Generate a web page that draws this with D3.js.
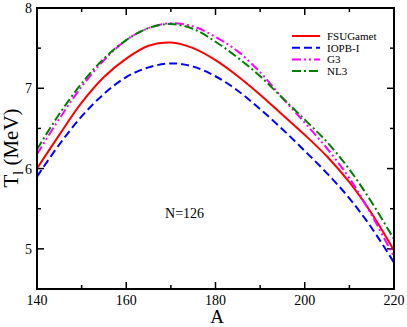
<!DOCTYPE html>
<html>
<head>
<meta charset="utf-8">
<script src="https://cdn.jsdelivr.net/npm/d3@7"></script>
<style>
  body { margin: 0; background: #fff; }
  text { font-family: "Liberation Serif", "Times New Roman", serif; }
</style>
</head>
<body>
<svg id="chart" width="407" height="327"></svg>
<script>
// mass numbers
const massA = [140, 145, 150, 155, 160, 165, 170, 175, 180, 185, 190, 195, 200, 205, 210, 215, 220];
// T_l (MeV) per force
const fsuGamet = [6.00, 6.42, 6.82, 7.14, 7.37, 7.53, 7.57, 7.50, 7.35, 7.15, 6.92, 6.67, 6.42, 6.15, 5.83, 5.44, 4.98];
const iopb1 = [5.90, 6.30, 6.65, 6.93, 7.14, 7.26, 7.31, 7.27, 7.15, 6.97, 6.74, 6.49, 6.22, 5.94, 5.63, 5.26, 4.83];
const g3 = [6.18, 6.62, 7.02, 7.35, 7.60, 7.75, 7.81, 7.77, 7.64, 7.46, 7.20, 6.88, 6.57, 6.25, 5.88, 5.42, 4.90];
const nl3 = [6.24, 6.68, 7.06, 7.37, 7.60, 7.75, 7.80, 7.74, 7.58, 7.38, 7.15, 6.88, 6.61, 6.33, 5.99, 5.58, 5.12];

const xTicks = [140, 160, 180, 200, 220];
const yTicks = [5, 6, 7, 8];

const seriesList = [
  { name: "FSUGamet", values: fsuGamet, color: "#ff0000", dash: null },
  { name: "IOPB-I", values: iopb1, color: "#0000ff", dash: "8,4" },
  { name: "G3", values: g3, color: "#ff00ff", dash: "9,3,2,3,2,3" },
  { name: "NL3", values: nl3, color: "#008000", dash: "9,3,2,3" }
];

const margin = { top: 8, right: 13, bottom: 38, left: 37 };
const width = 407 - margin.left - margin.right;
const height = 327 - margin.top - margin.bottom;

const svg = d3.select("#chart");
const g = svg.append("g").attr("transform", `translate(${margin.left},${margin.top})`);

const x = d3.scaleLinear().domain([140, 220]).range([0, width]);
const y = d3.scaleLinear().domain([4.5, 8]).range([height, 0]);

g.append("defs").append("clipPath").attr("id", "clip")
  .append("rect").attr("width", width).attr("height", height);

// ticks on all four sides, pointing inward
const minorX = d3.range(150, 220, 20);
const minorY = [5.5, 6.5, 7.5];

function drawTicks(sel, vals, len, side) {
  sel.selectAll(null).data(vals).enter().append("line")
    .attr("x1", d => side === "b" || side === "t" ? x(d) : (side === "l" ? 0 : width))
    .attr("x2", d => side === "b" || side === "t" ? x(d) : (side === "l" ? len : width - len))
    .attr("y1", d => side === "l" || side === "r" ? y(d) : (side === "b" ? height : 0))
    .attr("y2", d => side === "l" || side === "r" ? y(d) : (side === "b" ? height - len : len))
    .attr("stroke", "#000").attr("stroke-width", 1.5);
}
const tickG = g.append("g");
drawTicks(tickG, xTicks, 7, "b");
drawTicks(tickG, xTicks, 7, "t");
drawTicks(tickG, minorX, 4, "b");
drawTicks(tickG, minorX, 4, "t");
drawTicks(tickG, yTicks, 7, "l");
drawTicks(tickG, yTicks, 7, "r");
drawTicks(tickG, minorY, 4, "l");
drawTicks(tickG, minorY, 4, "r");

// curves
const line = d3.line()
  .x((d, i) => x(massA[i]))
  .y(d => y(d))
  .curve(d3.curveCatmullRom);

g.append("g").attr("clip-path", "url(#clip)")
  .selectAll("path").data(seriesList).enter().append("path")
  .attr("d", d => line(d.values))
  .attr("fill", "none")
  .attr("stroke", d => d.color)
  .attr("stroke-width", 2)
  .attr("stroke-dasharray", d => d.dash);

// frame
g.append("rect").attr("width", width).attr("height", height)
  .attr("fill", "none").attr("stroke", "#000").attr("stroke-width", 2);

// tick labels
g.selectAll(".xl").data(xTicks).enter().append("text")
  .attr("x", d => x(d)).attr("y", height + 16)
  .attr("text-anchor", "middle").style("font-size", "14px")
  .text(d => d);
g.selectAll(".yl").data(yTicks).enter().append("text")
  .attr("x", -5).attr("y", d => y(d) + 5)
  .attr("text-anchor", "end").style("font-size", "14px")
  .text(d => d);

// axis titles
svg.append("text")
  .attr("x", 217).attr("y", 323)
  .attr("text-anchor", "middle").style("font-size", "19px")
  .text("A");

const yTitle = svg.append("text")
  .attr("transform", "translate(18,148) rotate(-90)")
  .attr("text-anchor", "middle").style("font-size", "21px");
yTitle.append("tspan").text("T");
yTitle.append("tspan").attr("dy", 5).style("font-size", "14px").text("l");
yTitle.append("tspan").attr("dy", -5).text(" (MeV)");

// annotation
g.append("text")
  .attr("x", x(168.7)).attr("y", 210)
  .style("font-size", "14px")
  .text("N=126");

// legend
const legend = g.append("g").attr("transform", "translate(255,28)");
const rows = legend.selectAll("g").data(seriesList).enter().append("g")
  .attr("transform", (d, i) => `translate(0,${i * 11.7})`);
rows.append("line")
  .attr("x1", 0).attr("x2", 28)
  .attr("stroke", d => d.color).attr("stroke-width", 2)
  .attr("stroke-dasharray", d => d.dash);
rows.append("text")
  .attr("x", 35).attr("y", 4)
  .style("font-size", "11px")
  .text(d => d.name);
</script>
</body>
</html>
